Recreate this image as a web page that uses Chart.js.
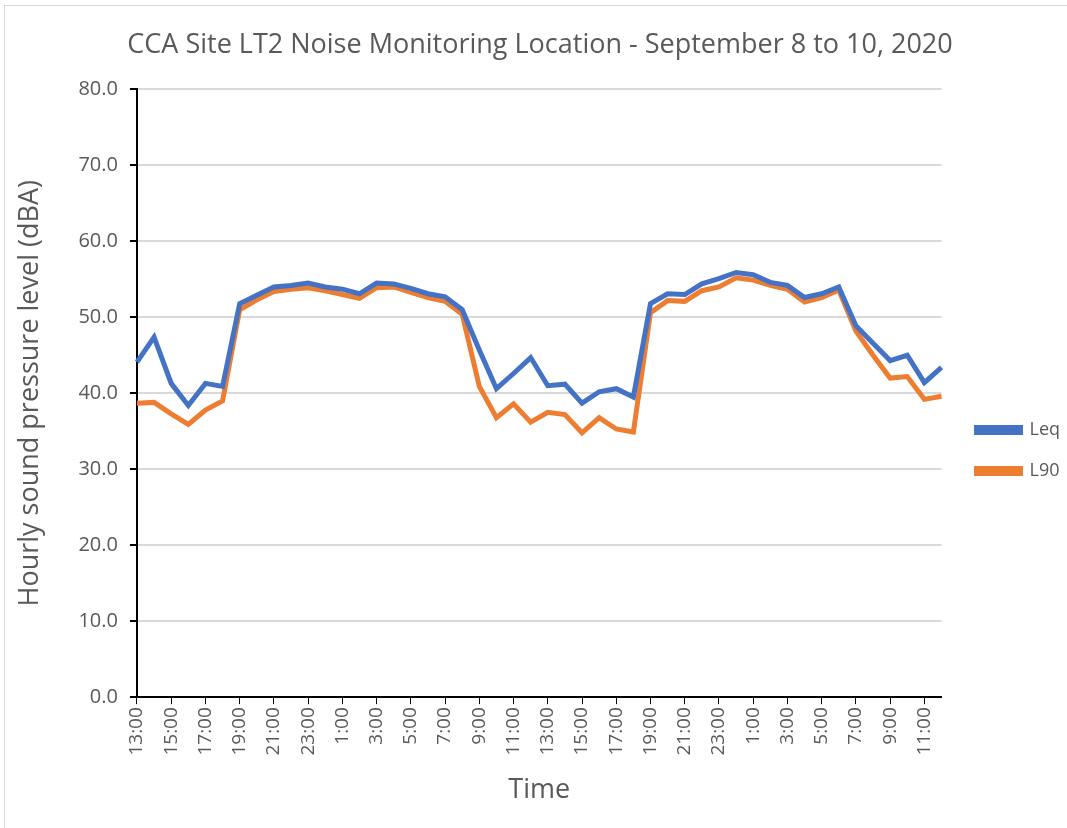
<!DOCTYPE html>
<html>
<head>
<meta charset="utf-8">
<script src="https://cdn.jsdelivr.net/npm/chart.js@4.4.1/dist/chart.umd.min.js"></script>
<style>
  html, body { margin: 0; padding: 0; background: #fff; }
  #wrap { position: relative; width: 1067px; height: 828px; }
  #frame { position: absolute; left: 4px; top: 5px; width: 1070px; height: 830px; border: 1px solid #d9d9d9; box-sizing: border-box; }
  canvas { position: absolute; left: 0; top: 0; }
</style>
</head>
<body>
<div id="wrap">
  <div id="frame"></div>
  <canvas id="myChart" width="1067" height="828"></canvas>
</div>
<script>
// hourly labels, 13:00 Sept 8 through 12:00 Sept 10
const hours = [
  '13:00','14:00','15:00','16:00','17:00','18:00','19:00','20:00','21:00','22:00','23:00','0:00',
  '1:00','2:00','3:00','4:00','5:00','6:00','7:00','8:00','9:00','10:00','11:00','12:00',
  '13:00','14:00','15:00','16:00','17:00','18:00','19:00','20:00','21:00','22:00','23:00','0:00',
  '1:00','2:00','3:00','4:00','5:00','6:00','7:00','8:00','9:00','10:00','11:00','12:00'
];

const leq = [
  44.1, 47.4, 41.3, 38.4, 41.3, 40.9, 51.8, 52.9, 54.0, 54.2, 54.5, 54.0,
  53.7, 53.1, 54.5, 54.4, 53.8, 53.1, 52.7, 51.0, 45.7, 40.6, 42.6, 44.7,
  41.0, 41.2, 38.7, 40.2, 40.6, 39.5, 51.8, 53.1, 53.0, 54.4, 55.1, 55.9,
  55.6, 54.6, 54.2, 52.6, 53.1, 54.0, 48.9, 46.6, 44.3, 45.0, 41.4, 43.4
];

const l90 = [
  38.7, 38.8, 37.3, 35.9, 37.8, 39.0, 51.0, 52.3, 53.4, 53.7, 53.9, 53.5,
  53.0, 52.5, 53.9, 54.0, 53.3, 52.6, 52.1, 50.4, 40.9, 36.8, 38.6, 36.2,
  37.5, 37.2, 34.8, 36.8, 35.3, 34.9, 50.6, 52.2, 52.1, 53.5, 54.0, 55.2,
  54.9, 54.2, 53.7, 52.0, 52.6, 53.6, 48.2, 45.0, 42.0, 42.2, 39.2, 39.6
];

const yTicks = [0, 10, 20, 30, 40, 50, 60, 70, 80];

const fontFamily = '"Open Sans", "Noto Sans", sans-serif';
const grey = '#595959';

// nudge the legend a bit further from the plot, as in the reference
const legendShift = {
  id: 'legendShift',
  afterLayout(chart) {
    if (chart.legend) {
      chart.legend.left += 12;
      chart.legend.right += 12;
    }
  }
};

const config = {
  type: 'line',
  data: {
    labels: hours,
    datasets: [
      {
        label: 'Leq',
        data: leq,
        borderColor: '#4472C4',
        backgroundColor: '#4472C4',
        borderWidth: 5,
        pointRadius: 0,
        tension: 0,
      },
      {
        label: 'L90',
        data: l90,
        borderColor: '#ED7D31',
        backgroundColor: '#ED7D31',
        borderWidth: 5,
        pointRadius: 0,
        tension: 0,
      }
    ]
  },
  options: {
    responsive: false,
    animation: false,
    layout: { padding: { left: 22, right: 9, top: 18, bottom: 17 } },
    plugins: {
      title: {
        display: true,
        text: 'CCA Site LT2 Noise Monitoring Location - September 8 to 10, 2020',
        color: grey,
        font: { family: fontFamily, size: 27, weight: 'normal' },
        padding: { top: 11, bottom: 28 },
      },
      legend: {
        position: 'right',
        // empty title only pushes the entries down, like the reference
        title: { display: true, text: '', padding: 0, font: { size: 60 } },
        labels: {
          color: grey,
          font: { family: fontFamily, size: 18 },
          boxWidth: 44,
          boxHeight: 5,
          padding: 23,
        }
      },
      tooltip: { enabled: false }
    },
    scales: {
      x: {
        offset: false,
        grid: {
          drawOnChartArea: false,
          drawTicks: true,
          tickLength: 7,
          tickColor: '#000',
        },
        border: { color: '#000', width: 2 },
        title: {
          display: true,
          text: 'Time',
          color: grey,
          font: { family: fontFamily, size: 27 },
          padding: { top: 16 },
        },
        ticks: {
          autoSkip: false,
          maxRotation: 90,
          minRotation: 90,
          color: grey,
          font: { family: fontFamily, size: 19 },
          padding: 3,
          callback: function (value, index) {
            return index % 2 === 0 ? this.getLabelForValue(value) : null;
          }
        }
      },
      y: {
        min: 0,
        max: 80,
        afterBuildTicks: (axis) => {
          axis.ticks = yTicks.map(v => ({ value: v }));
        },
        grid: {
          color: '#d9d9d9',
          lineWidth: 2,
          drawTicks: true,
          tickLength: 7,
          tickColor: '#000',
        },
        border: { color: '#000', width: 2 },
        title: {
          display: true,
          text: 'Hourly sound pressure level (dBA)',
          color: grey,
          font: { family: fontFamily, size: 27 },
          padding: { top: -8, bottom: 20 },
        },
        ticks: {
          color: grey,
          font: { family: fontFamily, size: 20 },
          padding: 12,
          callback: (v) => v.toFixed(1),
        }
      }
    }
  },
  plugins: [legendShift]
};

const myChart = new Chart(document.getElementById('myChart'), config);
</script>
</body>
</html>
